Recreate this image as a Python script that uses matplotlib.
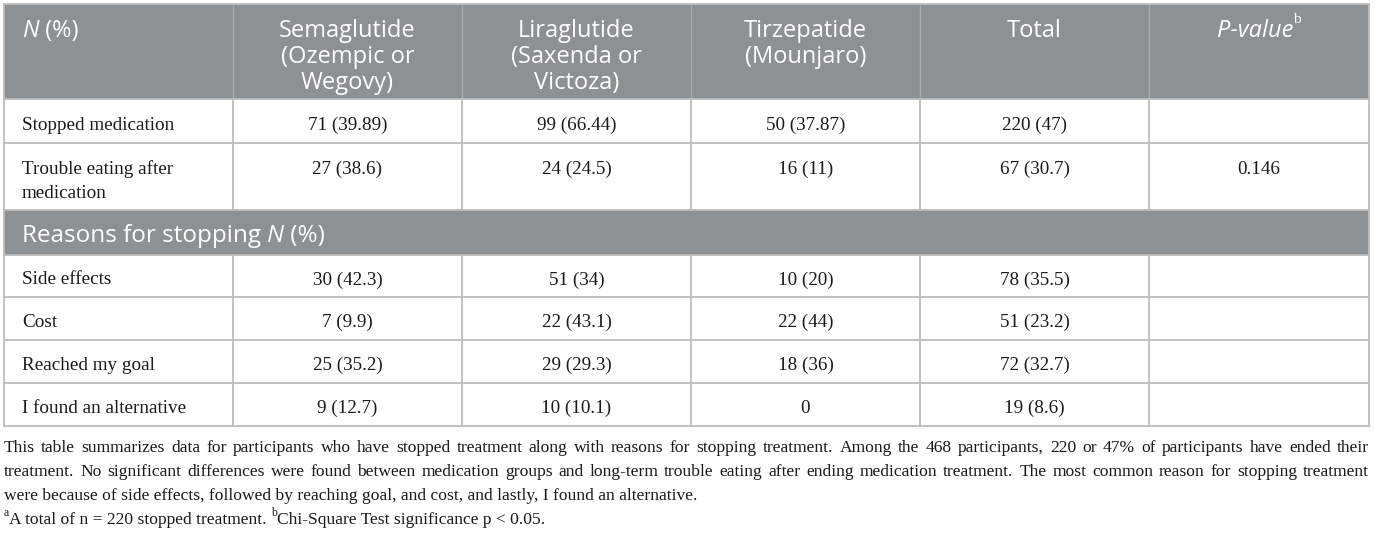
import matplotlib
matplotlib.use("Agg")
import matplotlib.pyplot as plt  # noqa: E402
from matplotlib.patches import Rectangle  # noqa: E402

W, H = 1375, 533

# table content
col_headers = ["Semaglutide\n(Ozempic or\nWegovy)", "Liraglutide\n(Saxenda or\nVictoza)", "Tirzepatide\n(Mounjaro)", "Total"]
top_labels = ["Stopped medication", "Trouble eating after\nmedication"]
semaglutide_top = ["71 (39.89)", "27 (38.6)"]
liraglutide_top = ["99 (66.44)", "24 (24.5)"]
tirzepatide_top = ["50 (37.87)", "16 (11)"]
total_top = ["220 (47)", "67 (30.7)"]
p_values = ["", "0.146"]

reasons = ["Side effects", "Cost", "Reached my goal", "I found an alternative"]
semaglutide_reasons = ["30 (42.3)", "7 (9.9)", "25 (35.2)", "9 (12.7)"]
liraglutide_reasons = ["51 (34)", "22 (43.1)", "29 (29.3)", "10 (10.1)"]
tirzepatide_reasons = ["10 (20)", "22 (44)", "18 (36)", "0"]
total_reasons = ["78 (35.5)", "51 (23.2)", "72 (32.7)", "19 (8.6)"]

note_lines = [
    "This table summarizes data for participants who have stopped treatment along with reasons for stopping treatment. Among the 468 participants, 220 or 47% of participants have ended their",
    "treatment. No significant differences were found between medication groups and long-term trouble eating after ending medication treatment. The most common reason for stopping treatment",
    "were because of side effects, followed by reaching goal, and cost, and lastly, I found an alternative.",
]
footnote_a = "A total of n = 220 stopped treatment. "
footnote_b = "Chi-Square Test significance p < 0.05."

# layout (pixels)
col_x = [4, 233, 462, 691, 920, 1149, 1369]
row_y = [4, 99, 143, 210, 255, 297, 340, 383, 426]
PAD = 18
HEAD_BG = "#8b9194"
HEAD_SEP = "#a7acaf"
GRID = "#bcbcbc"
INK = "#1a1a1a"
SANS = "Open Sans"
SERIF = "Liberation Serif"
HEAD_FS = 17
SEC_FS = 17.5
BODY_FS = 13.8
NOTE_FS = 12.6

fig = plt.figure(figsize=(W / 100, H / 100), dpi=100)
ax = fig.add_axes([0, 0, 1, 1])
ax.set_xlim(0, W)
ax.set_ylim(H, 0)
ax.axis("off")
renderer = fig.canvas.get_renderer()


def text_width(s, **kw):
    t = ax.text(0, 0, s, **kw)
    w = t.get_window_extent(renderer).width
    t.remove()
    return w


def draw_runs(x, y, runs, ha="left"):
    widths = [text_width(s, **kw) for s, kw, _ in runs]
    start = x - sum(widths) / 2 if ha == "center" else x
    for (s, kw, dy), w in zip(runs, widths):
        ax.text(start, y + dy, s, ha="left", va="center_baseline", **kw)
        start += w


def draw_lines(x, y, s, ha, step, **kw):
    for i, line in enumerate(s.split("\n")):
        ax.text(x, y + i * step, line, ha=ha, va="center_baseline", **kw)


def justify(y, line, x0, x1, **kw):
    words = line.split(" ")
    widths = [text_width(w, **kw) for w in words]
    gap = (x1 - x0 - sum(widths)) / (len(words) - 1)
    x = x0
    for word, w in zip(words, widths):
        ax.text(x, y, word, ha="left", va="center_baseline", **kw)
        x += w + gap


# backgrounds
left, right = col_x[0], col_x[-1]
ax.add_patch(Rectangle((left, row_y[0]), right - left, row_y[1] - row_y[0], color=HEAD_BG, lw=0))
ax.add_patch(Rectangle((left, row_y[3]), right - left, row_y[4] - row_y[3], color=HEAD_BG, lw=0))

# grid
for x in col_x[1:-1]:
    ax.plot([x, x], [row_y[0], row_y[1]], color=HEAD_SEP, lw=1.0)
for x in col_x:
    ax.plot([x, x], [row_y[1], row_y[3]], color=GRID, lw=1.3)
    ax.plot([x, x], [row_y[4], row_y[-1]], color=GRID, lw=1.3)
for x in (left, right):
    ax.plot([x, x], [row_y[0], row_y[1]], color=GRID, lw=1.3)
    ax.plot([x, x], [row_y[3], row_y[4]], color=GRID, lw=1.3)
for y in row_y:
    ax.plot([left, right], [y, y], color=GRID, lw=1.3)

head_kw = dict(fontsize=HEAD_FS, family=SANS, color="white")
head_it = dict(head_kw, style="italic")
body_kw = dict(fontsize=BODY_FS, family=SERIF, color=INK)
px = 100 / 72

# header
hy = row_y[0] + 24
draw_runs(col_x[0] + PAD, hy, [("N", head_it, 0), (" (%)", head_kw, 0)])
for i, label in enumerate(col_headers):
    cx = (col_x[i + 1] + col_x[i + 2]) / 2
    draw_lines(cx, hy, label, "center", 26, **head_kw)
sup_kw = dict(fontsize=BODY_FS * 0.8, family=SERIF, color="white")
draw_runs((col_x[5] + col_x[6]) / 2, hy,
          [("P-value", head_it, 0), ("b", sup_kw, -0.42 * HEAD_FS * px)], ha="center")

# top rows
top_cols = [semaglutide_top, liraglutide_top, tirzepatide_top, total_top, p_values]
for r, label in enumerate(top_labels):
    y = row_y[1 + r] + 24.5
    draw_lines(col_x[0] + PAD, y, label, "left", 24, **body_kw)
    for c, col in enumerate(top_cols):
        ax.text((col_x[c + 1] + col_x[c + 2]) / 2, y, col[r], ha="center", va="center_baseline", **body_kw)

# section header
sec_kw = dict(fontsize=SEC_FS, family=SANS, color="white")
draw_runs(col_x[0] + PAD, (row_y[3] + row_y[4]) / 2 + 1,
          [("Reasons for stopping ", sec_kw, 0), ("N", dict(sec_kw, style="italic"), 0), (" (%)", sec_kw, 0)])

# reasons
reason_cols = [semaglutide_reasons, liraglutide_reasons, tirzepatide_reasons, total_reasons]
for r, label in enumerate(reasons):
    y = (row_y[4 + r] + row_y[5 + r]) / 2 + 2
    ax.text(col_x[0] + PAD, y, label, ha="left", va="center_baseline", **body_kw)
    for c, col in enumerate(reason_cols):
        ax.text((col_x[c + 1] + col_x[c + 2]) / 2, y, col[r], ha="center", va="center_baseline", **body_kw)

# notes
note_kw = dict(fontsize=NOTE_FS, family=SERIF, color=INK)
note_sup = dict(fontsize=NOTE_FS * 0.68, family=SERIF, color=INK)
ny = [446, 470, 494, 518]
justify(ny[0], note_lines[0], left, right, **note_kw)
justify(ny[1], note_lines[1], left, right, **note_kw)
ax.text(left, ny[2], note_lines[2], ha="left", va="center_baseline", **note_kw)
up = -0.4 * NOTE_FS * px
draw_runs(left, ny[3], [("a", note_sup, up), (footnote_a, note_kw, 0), ("b", note_sup, up), (footnote_b, note_kw, 0)])

fig.savefig("out.png", dpi=100)
